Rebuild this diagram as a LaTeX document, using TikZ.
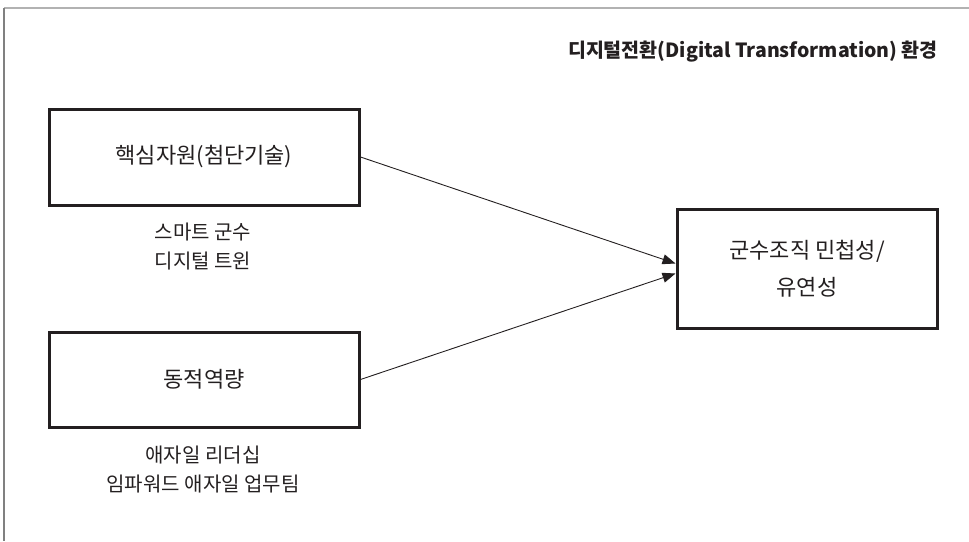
\documentclass[tikz,border=0pt]{standalone}
\usepackage{fontspec}
\setmainfont{Noto Sans CJK KR}
\usetikzlibrary{arrows.meta,calc}
\definecolor{ink}{HTML}{231F20}
\tikzset{
  box/.style={draw=ink, line width=3pt, rectangle, inner sep=0pt, text=ink,
    font=\fontsize{22}{37}\selectfont, align=center},
  sub/.style={text=ink, inner sep=0pt, align=center, font=\fontsize{20}{29}\selectfont},
  arr/.style={draw=ink, line width=0.9pt, -{Triangle[length=13pt,width=10pt]}},
}
\begin{document}
\begin{tikzpicture}[x=1pt,y=-1pt]
\useasboundingbox (0,0) rectangle (969,541);
\draw[line width=1.5pt, color=black!30] (4,8) -- (969,8);
\draw[line width=1.5pt, color=black!50] (4,8) -- (4,541);
\node[anchor=east, text=ink, inner sep=0pt, font=\fontsize{19.5}{24}\selectfont\bfseries] (title) at (938,52) {디지털전환(Digital Transformation) 환경};
\node[box, minimum width=310pt, minimum height=96pt] (b1) at (204,157) {핵심자원(첨단기술)};
\node[box, minimum width=310pt, minimum height=95pt] (b2) at (204,379.5) {동적역량};
\node[box, minimum width=260pt, minimum height=119pt] (b3) at (807,268.5) {군수조직 민첩성/\\유연성};
\node[sub] (s1) at (203,247) {스마트 군수\\디지털 트윈};
\node[sub] (s2) at (203,470) {애자일 리더십\\임파워드 애자일 업무팀};
\draw[arr] (b1.east) -- ($(b3.west)+(0,-5)$);
\draw[arr] (b2.east) -- ($(b3.west)+(0,5)$);
\end{tikzpicture}
\end{document}
